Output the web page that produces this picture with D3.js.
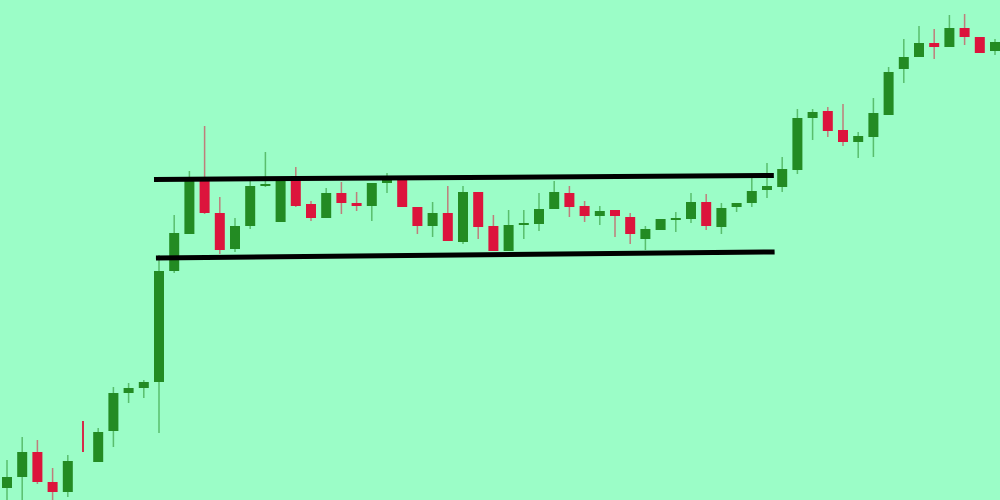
<!DOCTYPE html>
<html>
<head>
<meta charset="utf-8">
<script src="https://cdn.jsdelivr.net/npm/d3@7"></script>
<style>
  html, body { margin: 0; padding: 0; background: #9bfdc7; }
  svg { display: block; }
</style>
</head>
<body>
<div id="chart"></div>
<script>
// candle prices (arbitrary units), one entry per bar
var opens  = [12, 23, 48, 18, 8, 64, 38, 69, 107, 112, 118, 229, 266, 322, 287, 251, 274, 314, 278, 320,
              296, 282, 307, 297, 294, 317, 321, 293, 274, 287, 258, 308, 274, 249, 275, 276, 291, 307, 294, 284,
              290, 283, 261, 270, 280, 281, 298, 273, 293, 297, 310, 313, 330, 382, 389, 370, 358, 363, 385, 431,
              443, 457, 453, 472, 463, 449];
var highs  = [40, 63, 60, 32, 45, 79, 72, 113, 117, 120, 245, 285, 329, 374, 303, 282, 320, 348, 322, 333,
              299, 312, 318, 308, 317, 327, 322, 293, 298, 314, 314, 308, 285, 290, 290, 307, 319, 314, 299, 294,
              290, 287, 274, 281, 288, 307, 306, 297, 297, 322, 337, 343, 391, 391, 393, 396, 368, 402, 433, 461,
              474, 471, 485, 486, 463, 461];
var lows   = [-3, -3, 16, -3, 3, 48, 38, 53, 97, 102, 67, 227, 266, 286, 246, 248, 271, 313, 278, 293,
              279, 282, 286, 289, 279, 307, 293, 266, 263, 259, 256, 261, 249, 249, 261, 269, 291, 283, 278, 275,
              263, 256, 250, 270, 268, 277, 270, 266, 288, 293, 302, 308, 326, 360, 363, 354, 342, 343, 385, 417,
              443, 441, 453, 455, 447, 445];
var closes = [23, 48, 18, 8, 39, 64, 68, 107, 112, 118, 229, 267, 319, 287, 250, 274, 314, 316, 320, 294,
              282, 307, 297, 294, 317, 321, 293, 274, 287, 259, 308, 273, 249, 275, 277, 291, 308, 293, 284, 289,
              284, 266, 271, 281, 282, 298, 274, 292, 297, 309, 314, 331, 382, 388, 369, 358, 364, 387, 428, 443,
              457, 453, 472, 463, 447, 458];
// bar 6 is a flat red tick in the source, so mark its colour by hand
var bearish = [5];

// channel lines: [bar index, price] at each end
var upperLine = [[9.67, 320.5], [50.45, 324.5]];
var lowerLine = [[9.8, 242], [50.5, 248]];

var width = 1000,
    height = 500;

var candles = opens.map(function(o, i) {
    return {i: i, open: o, high: highs[i], low: lows[i], close: closes[i]};
});

var svg = d3.select('#chart')
    .append('svg')
    .attr('width', width)
    .attr('height', height);

svg.append('rect')
    .attr('width', width)
    .attr('height', height)
    .attr('fill', '#9bfdc7');

var x = d3.scaleLinear()
    .domain([0, candles.length - 1])
    .range([7, 995]);

var y = d3.scaleLinear()
    .domain([0, 500])
    .range([500, 0]);

var bodyW = 10;

function col(d) {
    if (bearish.indexOf(d.i) >= 0) return '#dc143c';
    return d.close >= d.open ? '#238b23' : '#dc143c';
}

// wicks
svg.selectAll('.wick')
    .data(candles).enter()
    .append('line')
    .attr('class', 'wick')
    .attr('x1', function(d) { return x(d.i); })
    .attr('x2', function(d) { return x(d.i); })
    .attr('y1', function(d) { return y(d.high); })
    .attr('y2', function(d) { return y(d.low); })
    .attr('stroke', col)
    .attr('stroke-opacity', function(d) { return d.open === d.close ? 0.9 : 0.55; })
    .attr('stroke-width', function(d) { return d.open === d.close ? 2 : 1.5; });

// bodies (none for a flat bar)
svg.selectAll('.body')
    .data(candles.filter(function(d) { return d.open !== d.close; })).enter()
    .append('rect')
    .attr('class', 'body')
    .attr('x', function(d) { return x(d.i) - bodyW / 2; })
    .attr('y', function(d) { return y(Math.max(d.open, d.close)); })
    .attr('width', bodyW)
    .attr('height', function(d) { return Math.max(1.5, Math.abs(y(d.open) - y(d.close))); })
    .attr('fill', col);

// channel
var line = d3.line()
    .x(function(d) { return x(d[0]); })
    .y(function(d) { return y(d[1]); });

[upperLine, lowerLine].forEach(function(pts) {
    svg.append('path')
        .attr('d', line(pts))
        .attr('fill', 'none')
        .attr('stroke', '#000')
        .attr('stroke-width', 5);
});
</script>
</body>
</html>
